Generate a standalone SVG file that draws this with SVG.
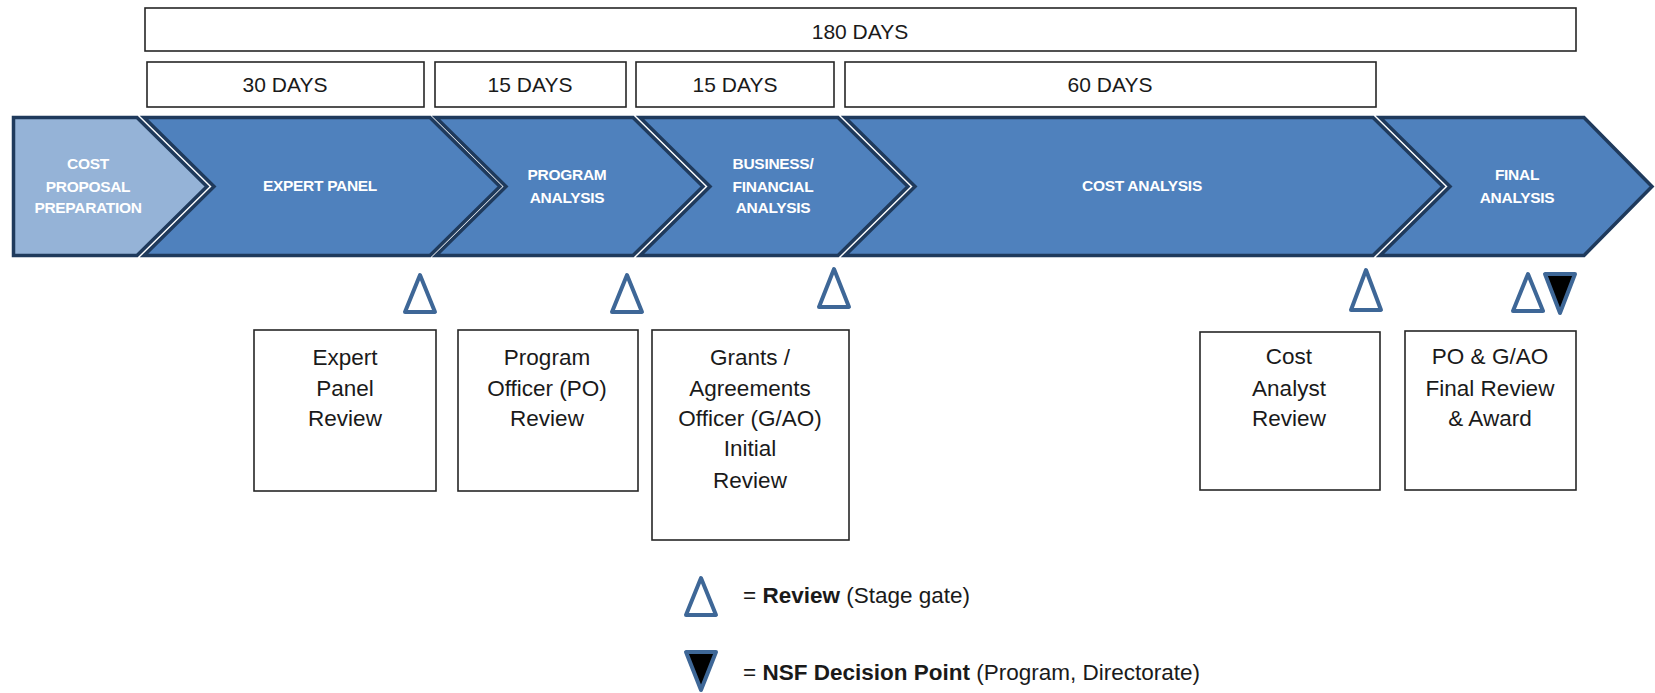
<svg xmlns="http://www.w3.org/2000/svg" width="1655" height="693" viewBox="0 0 1655 693">
<defs>
<style>
.box{fill:#fff;stroke:#262626;stroke-width:1.6}
.chev{fill:#4F81BD;stroke:#1F3A5C;stroke-width:3.5;stroke-linejoin:miter}
.chev.light{fill:#95B3D7}
.ct{font-family:"Liberation Sans",Arial,sans-serif;font-weight:bold;font-size:15.5px;letter-spacing:-0.3px;fill:#fff;text-anchor:middle}
.dt{font-family:"Liberation Sans",Arial,sans-serif;font-size:21px;fill:#1a1a1a;text-anchor:middle}
.bt{font-family:"Liberation Sans",Arial,sans-serif;font-size:22.5px;fill:#1a1a1a;text-anchor:middle}
.lt{font-family:"Liberation Sans",Arial,sans-serif;font-size:22.5px;fill:#1a1a1a}
.rev{fill:#fff;stroke:#3E6797;stroke-width:4;stroke-linejoin:round}
.dec{fill:#000;stroke:#3E6797;stroke-width:4;stroke-linejoin:round}
</style>
</defs>
<rect width="1655" height="693" fill="#fff"/>

<g id="days">
<g id="d180"><rect class="box" x="145" y="8" width="1431" height="43"/><text class="dt" x="860" y="39">180 DAYS</text></g>
<g id="d30"><rect class="box" x="147" y="62" width="277" height="45"/><text class="dt" x="285" y="92">30 DAYS</text></g>
<g id="d15a"><rect class="box" x="435" y="62" width="191" height="45"/><text class="dt" x="530" y="92">15 DAYS</text></g>
<g id="d15b"><rect class="box" x="636" y="62" width="198" height="45"/><text class="dt" x="735" y="92">15 DAYS</text></g>
<g id="d60"><rect class="box" x="845" y="62" width="531" height="45"/><text class="dt" x="1110" y="92">60 DAYS</text></g>
</g>

<g id="phases">
<g id="p-cost-prep"><polygon class="chev light" points="13.5,117.5 137,117.5 207,186.5 137,255.5 13.5,255.5"/>
<text class="ct" x="88" y="168.5">COST</text><text class="ct" x="88" y="191.5">PROPOSAL</text><text class="ct" x="88" y="213">PREPARATION</text></g>
<g id="p-expert"><polygon class="chev" points="144,117.5 430,117.5 500,186.5 430,255.5 144,255.5 214,186.5"/>
<text class="ct" x="320" y="191">EXPERT PANEL</text></g>
<g id="p-program"><polygon class="chev" points="436,117.5 633,117.5 703,186.5 633,255.5 436,255.5 506,186.5"/>
<text class="ct" x="567" y="180">PROGRAM</text><text class="ct" x="567" y="203">ANALYSIS</text></g>
<g id="p-business"><polygon class="chev" points="640,117.5 838,117.5 908,186.5 838,255.5 640,255.5 710,186.5"/>
<text class="ct" x="773" y="168.5">BUSINESS/</text><text class="ct" x="773" y="191.5">FINANCIAL</text><text class="ct" x="773" y="213">ANALYSIS</text></g>
<g id="p-cost"><polygon class="chev" points="845,117.5 1373,117.5 1443,186.5 1373,255.5 845,255.5 915,186.5"/>
<text class="ct" x="1142" y="191">COST ANALYSIS</text></g>
<g id="p-final"><polygon class="chev" points="1380,117.5 1584,117.5 1652,186.5 1584,255.5 1380,255.5 1450,186.5"/>
<text class="ct" x="1517" y="180">FINAL</text><text class="ct" x="1517" y="203">ANALYSIS</text></g>
</g>

<g id="gates">
<polygon class="rev" points="420,275 435,312 405,312"/>
<polygon class="rev" points="627,275 642,312 612,312"/>
<polygon class="rev" points="834,269 849,307 819,307"/>
<polygon class="rev" points="1366,270 1381,310 1351,310"/>
<polygon class="rev" points="1528,274 1543,311 1513,311"/>
<polygon class="dec" points="1545,274 1575,274 1560,313"/>
</g>

<g id="connectors"></g>

<g id="reviews">
<g id="r-expert"><rect class="box" x="254" y="330" width="182" height="161"/>
<text class="bt" x="345" y="365">Expert</text><text class="bt" x="345" y="396">Panel</text><text class="bt" x="345" y="426">Review</text></g>
<g id="r-po"><rect class="box" x="458" y="330" width="180" height="161"/>
<text class="bt" x="547" y="365">Program</text><text class="bt" x="547" y="396">Officer (PO)</text><text class="bt" x="547" y="426">Review</text></g>
<g id="r-gao"><rect class="box" x="652" y="330" width="197" height="210"/>
<text class="bt" x="750" y="365">Grants /</text><text class="bt" x="750" y="396">Agreements</text><text class="bt" x="750" y="426">Officer (G/AO)</text><text class="bt" x="750" y="456">Initial</text><text class="bt" x="750" y="488">Review</text></g>
<g id="r-cost"><rect class="box" x="1200" y="332" width="180" height="158"/>
<text class="bt" x="1289" y="364">Cost</text><text class="bt" x="1289" y="396">Analyst</text><text class="bt" x="1289" y="426">Review</text></g>
<g id="r-final"><rect class="box" x="1405" y="331" width="171" height="159"/>
<text class="bt" x="1490" y="364">PO &amp; G/AO</text><text class="bt" x="1490" y="396">Final Review</text><text class="bt" x="1490" y="426">&amp; Award</text></g>
</g>

<g id="legend">
<polygon class="rev" points="701,578 716,615 686,615"/>
<text class="lt" x="743" y="603">= <tspan font-weight="bold">Review</tspan> (Stage gate)</text>
<polygon class="dec" points="686,652 716,652 701,690"/>
<text class="lt" x="743" y="680">= <tspan font-weight="bold">NSF Decision Point</tspan> (Program, Directorate)</text>
</g>
</svg>
